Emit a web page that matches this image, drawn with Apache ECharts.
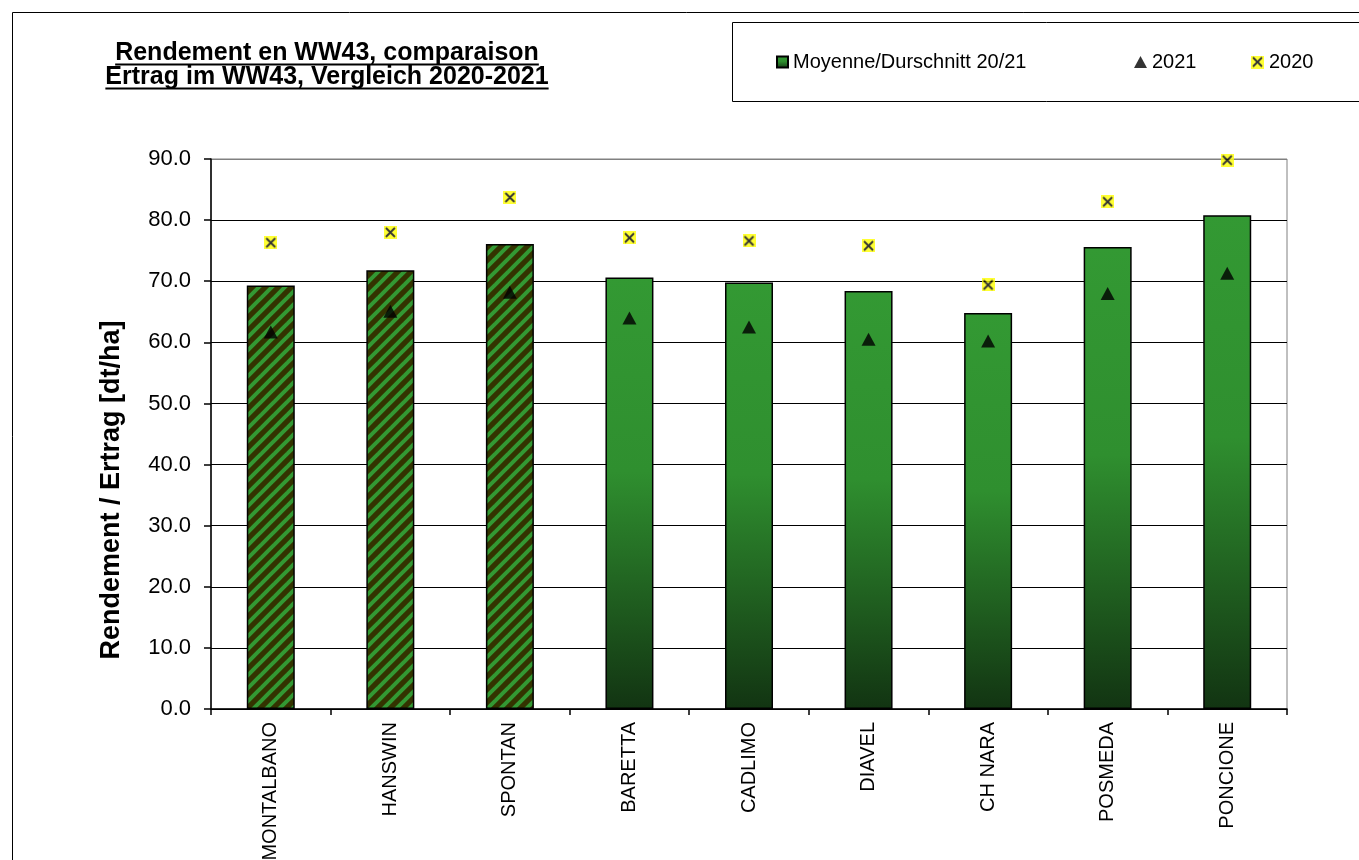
<!DOCTYPE html>
<html><head><meta charset="utf-8">
<script src="https://cdn.jsdelivr.net/npm/echarts/dist/echarts.min.js"></script>
<style>html,body{margin:0;padding:0;background:#fff}#c{width:1359px;height:860px}</style>
</head><body><div id="c"></div>
<script>
const categories = ['MONTALBANO','HANSWIN','SPONTAN','BARETTA','CADLIMO','DIAVEL','CH NARA','POSMEDA','PONCIONE'];
const avgValues = [69.3, 71.8, 76.1, 70.6, 69.8, 68.4, 64.8, 75.6, 80.8];
const values2021 = [61.7, 65.1, 68.2, 64.0, 62.5, 60.5, 60.2, 68.0, 71.3];
const values2020 = [76.3, 78.0, 83.7, 77.1, 76.6, 75.8, 69.4, 83.0, 89.8];
const hatchedFlags = [true, true, true, false, false, false, false, false, false];
const titleLines = ['Rendement en WW43, comparaison', 'Ertrag im WW43, Vergleich 2020-2021'];
const seriesNames = ['Moyenne/Durschnitt 20/21', '2021', '2020'];
const yAxisName = 'Rendement / Ertrag [dt/ha]';

const FONT = "'Liberation Sans', Arial, sans-serif";

function hatchCanvas() {
  const n = 13;
  const c = document.createElement('canvas'); c.width = n; c.height = n;
  const g = c.getContext('2d');
  g.fillStyle = '#333300'; g.fillRect(0, 0, n, n);
  g.strokeStyle = '#339933'; g.lineWidth = 4;
  for (const off of [-n, 0, n]) {
    g.beginPath(); g.moveTo(off - 4, n + 4); g.lineTo(off + n + 4, -4); g.stroke();
  }
  return c;
}
function crossMarker() {
  const c = document.createElement('canvas'); c.width = 13; c.height = 13;
  const g = c.getContext('2d');
  g.fillStyle = '#ffff00'; g.fillRect(0, 0, 13, 13);
  g.strokeStyle = '#000'; g.lineWidth = 1.8;
  g.beginPath(); g.moveTo(2, 2); g.lineTo(11, 11); g.moveTo(11, 2); g.lineTo(2, 11); g.stroke();
  return 'image://' + c.toDataURL();
}
const hatchPattern = { image: hatchCanvas(), repeat: 'repeat' };
const gradient = new echarts.graphic.LinearGradient(0, 0, 0, 1, [
  { offset: 0, color: '#339933' }, { offset: 0.45, color: '#2f8f2f' }, { offset: 1, color: '#123412' }
]);

const titleFont = 'bold 25px ' + FONT;
function textWidth(t, f) { const g = document.createElement('canvas').getContext('2d'); g.font = f; return g.measureText(t).width; }
const titleX = 327, titleY = [53, 77];
const graphics = [
  { type: 'rect', shape: { x: 12.5, y: 12.5, width: 1500, height: 1000 }, style: { fill: 'none', stroke: '#000', lineWidth: 1 }, silent: true },
  { type: 'rect', shape: { x: 732.5, y: 22.5, width: 700, height: 79 }, style: { fill: '#fff', stroke: '#000', lineWidth: 1 }, silent: true, z: 1 },
  { type: 'text', x: 112, y: 490, rotation: Math.PI / 2, style: { text: yAxisName, font: 'bold 27px ' + FONT, fill: '#000', align: 'center', verticalAlign: 'middle' } }
];
titleLines.forEach((t, i) => {
  const w = textWidth(t, titleFont);
  graphics.push({ type: 'text', x: titleX, y: titleY[i], style: { text: t, font: titleFont, fill: '#000', align: 'center', verticalAlign: 'middle' } });
  graphics.push({ type: 'line', shape: { x1: titleX - w / 2, y1: titleY[i] + 11.5, x2: titleX + w / 2, y2: titleY[i] + 11.5 }, style: { stroke: '#000', lineWidth: 2 } });
});

const splitColors = []; for (let i = 0; i < 9; i++) splitColors.push('#000'); splitColors.push('#808080');

const chart = echarts.init(document.getElementById('c'));
const legendText = { fontFamily: FONT, fontSize: 20, color: '#000' };
chart.setOption({
  animation: false,
  backgroundColor: '#fff',
  graphic: graphics,
  legend: [
    { left: 771, top: 47, itemWidth: 11, itemHeight: 11, itemGap: 4, textStyle: legendText, data: [{ name: seriesNames[0], icon: 'rect' }], z: 5 },
    { left: 1129, top: 47, itemWidth: 13, itemHeight: 12, textStyle: legendText, data: [{ name: seriesNames[1], icon: 'triangle' }], z: 5 },
    { left: 1246, top: 47, itemWidth: 13, itemHeight: 13, textStyle: legendText, data: [{ name: seriesNames[2] }], z: 5 }
  ],
  grid: { left: 211, top: 159, right: 72, bottom: 151, show: true, borderColor: '#808080', borderWidth: 1, containLabel: false, outerBoundsMode: 'none' },
  xAxis: {
    type: 'category', data: categories,
    axisLine: { lineStyle: { color: '#000', width: 1.5 } },
    axisTick: { show: true, length: 6, lineStyle: { color: '#000', width: 1.5 } },
    axisLabel: { rotate: 90, margin: 13, fontFamily: FONT, fontSize: 20, color: '#000' }
  },
  yAxis: {
    type: 'value', min: 0, max: 90, interval: 10,
    axisLine: { show: true, lineStyle: { color: '#000', width: 1.5 } },
    axisTick: { show: true, length: 7, lineStyle: { color: '#000', width: 1.5 } },
    axisLabel: { margin: 20, fontFamily: FONT, fontSize: 22, color: '#000', formatter: v => v.toFixed(1) },
    splitLine: { lineStyle: { color: splitColors, width: 1.2 } }
  },
  series: [
    {
      name: seriesNames[0], type: 'bar', barWidth: 48,
      itemStyle: { color: gradient, borderColor: '#000', borderWidth: 1.5 },
      data: avgValues.map((v, i) => hatchedFlags[i] ? { value: v, itemStyle: { color: hatchPattern } } : v)
    },
    {
      name: seriesNames[1], type: 'scatter', symbol: 'triangle', symbolSize: [14, 13], z: 4,
      itemStyle: { color: '#000' }, data: values2021
    },
    {
      name: seriesNames[2], type: 'scatter', symbol: crossMarker(), symbolSize: 13, z: 4,
      itemStyle: { color: '#ffff00' }, data: values2020
    }
  ]
});
</script></body></html>
